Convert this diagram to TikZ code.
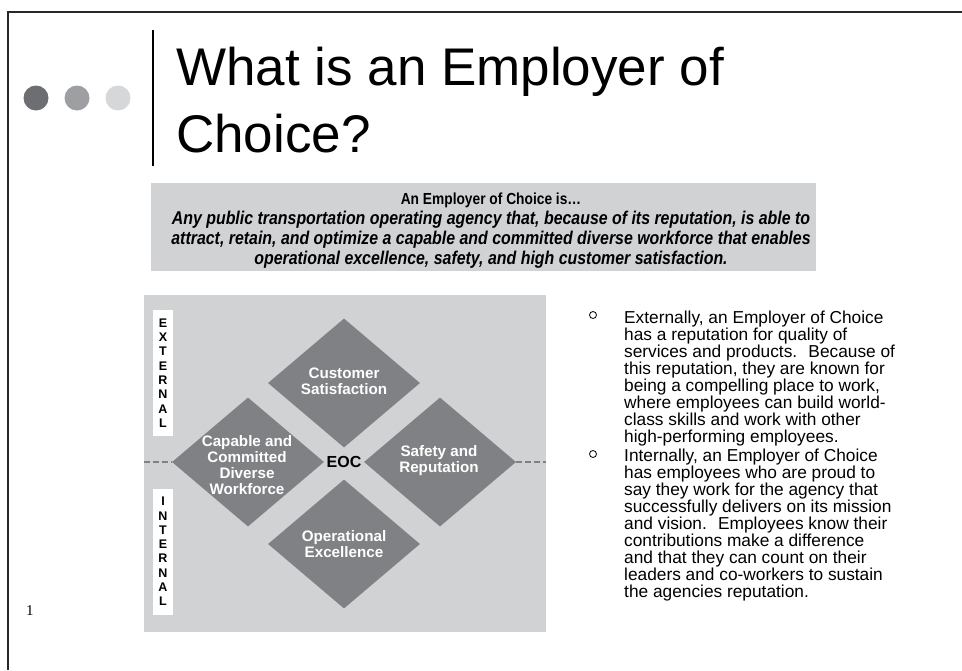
\documentclass[tikz,border=0pt]{standalone}
\usepackage{fontspec}
\setmainfont{Liberation Sans}
\newfontfamily\slidenumfont{Liberation Serif}
\newfontfamily\narrowfont[FakeStretch=0.86]{Liberation Sans}
\usetikzlibrary{shapes.geometric, positioning}
\definecolor{framegray}{RGB}{40, 40, 40}
\definecolor{dotdark}{RGB}{109, 110, 113}
\definecolor{dotmid}{RGB}{157, 159, 162}
\definecolor{dotlight}{RGB}{214, 215, 217}
\definecolor{panelgray}{RGB}{209, 210, 212}
\definecolor{petalgray}{RGB}{128, 129, 132}

\begin{document}
\begin{tikzpicture}[
    x=1pt, y=-1pt,
    dot/.style={circle, minimum size=25, inner sep=0, draw=none},
    title/.style={anchor=base west, align=left, inner sep=0, text=black, font=\fontsize{53}{67}\selectfont},
    banner/.style={anchor=base, align=center, inner sep=0, font=\narrowfont\fontsize{18.5}{20}\selectfont},
    petal/.style={diamond, minimum width=152, minimum height=129, inner sep=0, draw=none, fill=petalgray},
    petaltext/.style={align=center, inner sep=0, text=white, font=\fontsize{15.2}{16}\selectfont\bfseries},
    sidebox/.style={rectangle, minimum width=20, minimum height=126, inner sep=0, fill=white, align=center, font=\fontsize{12.5}{14.3}\selectfont\bfseries},
    divider/.style={line width=2, draw=petalgray, dash pattern=on 6 off 3},
    bulletmark/.style={circle, draw=black, line width=0.8, minimum size=7, inner sep=0},
    bullettext/.style={anchor=base west, align=left, inner sep=0, font=\fontsize{17.3}{17}\selectfont}
]
\useasboundingbox (0,0) rectangle (962,670);

% Slide frame
\draw [framegray, line width=1.8] (8,670) -- (8,12) -- (962,12);

% Title (base = last line)
\node (dot1) [dot, fill=dotdark] at (36,98) {};
\node (dot2) [dot, fill=dotmid] at (77,98) {};
\node (dot3) [dot, fill=dotlight] at (118,98) {};
\draw [black, line width=2] (153,30) -- (153,166);
\node (heading) [title] at (176,152) {What is an Employer of\\Choice?};

% Definition banner
\fill [panelgray] (151,183) rectangle (816,271);
\node (definition) [banner] at (491,264) {{\bfseries\fontsize{16}{20}\selectfont An Employer of Choice is…}\\
  {\bfseries\itshape Any public transportation operating agency that, because of its reputation, is able to}\\
  {\bfseries\itshape attract, retain, and optimize a capable and committed diverse workforce that enables}\\
  {\bfseries\itshape operational excellence, safety, and high customer satisfaction.}};

% EOC diagram
\fill [panelgray] (144,295) rectangle (546,632);
\node (ext) [sidebox] at (163,373) {E\\X\\T\\E\\R\\N\\A\\L};
\node (int) [sidebox] at (163,551.5) {I\\N\\T\\E\\R\\N\\A\\L};

\node (cs) [petal] at (344,383) {};
\node (cw) [petal] at (248,462) {};
\node (sr) [petal] at (440,462) {};
\node (oe) [petal] at (344,544) {};

\node (cs-label) [petaltext] at (344,381) {Customer\\Satisfaction};
\node (cw-label) [petaltext] at (247,465) {Capable and\\Committed\\Diverse\\Workforce};
\node (sr-label) [petaltext] at (439,461) {Safety and\\Reputation};
\node (oe-label) [petaltext] at (344,544) {Operational\\Excellence};
\node (eoc) [inner sep=0, font=\fontsize{16}{16}\selectfont\bfseries] at (344,462) {EOC};

\coordinate (edge-l) at (144,462);
\coordinate (edge-r) at (546,462);
\draw [divider] (edge-l) -- (cw.west);
\draw [divider] (sr.east) -- (edge-r);

% Bullets (base = last line)
\node (b1) [bulletmark] at (593,315) {};
\node (b1-text) [bullettext] at (624,442) {Externally, an Employer of Choice\\
  has a reputation for quality of\\
  services and products.~ Because of\\
  this reputation, they are known for\\
  being a compelling place to work,\\
  where employees can build world-\\
  class skills and work with other\\
  high-performing employees.};
\node (b2) [bulletmark] at (593,454) {};
\node (b2-text) [bullettext] at (624,597) {Internally, an Employer of Choice\\
  has employees who are proud to\\
  say they work for the agency that\\
  successfully delivers on its mission\\
  and vision.~ Employees know their\\
  contributions make a difference\\
  and that they can count on their\\
  leaders and co-workers to sustain\\
  the agencies reputation.};

% Slide number
\node (slidenum) [anchor=base, inner sep=0, font=\slidenumfont\fontsize{15}{15}\selectfont] at (30,615) {1};

\end{tikzpicture}
\end{document}
